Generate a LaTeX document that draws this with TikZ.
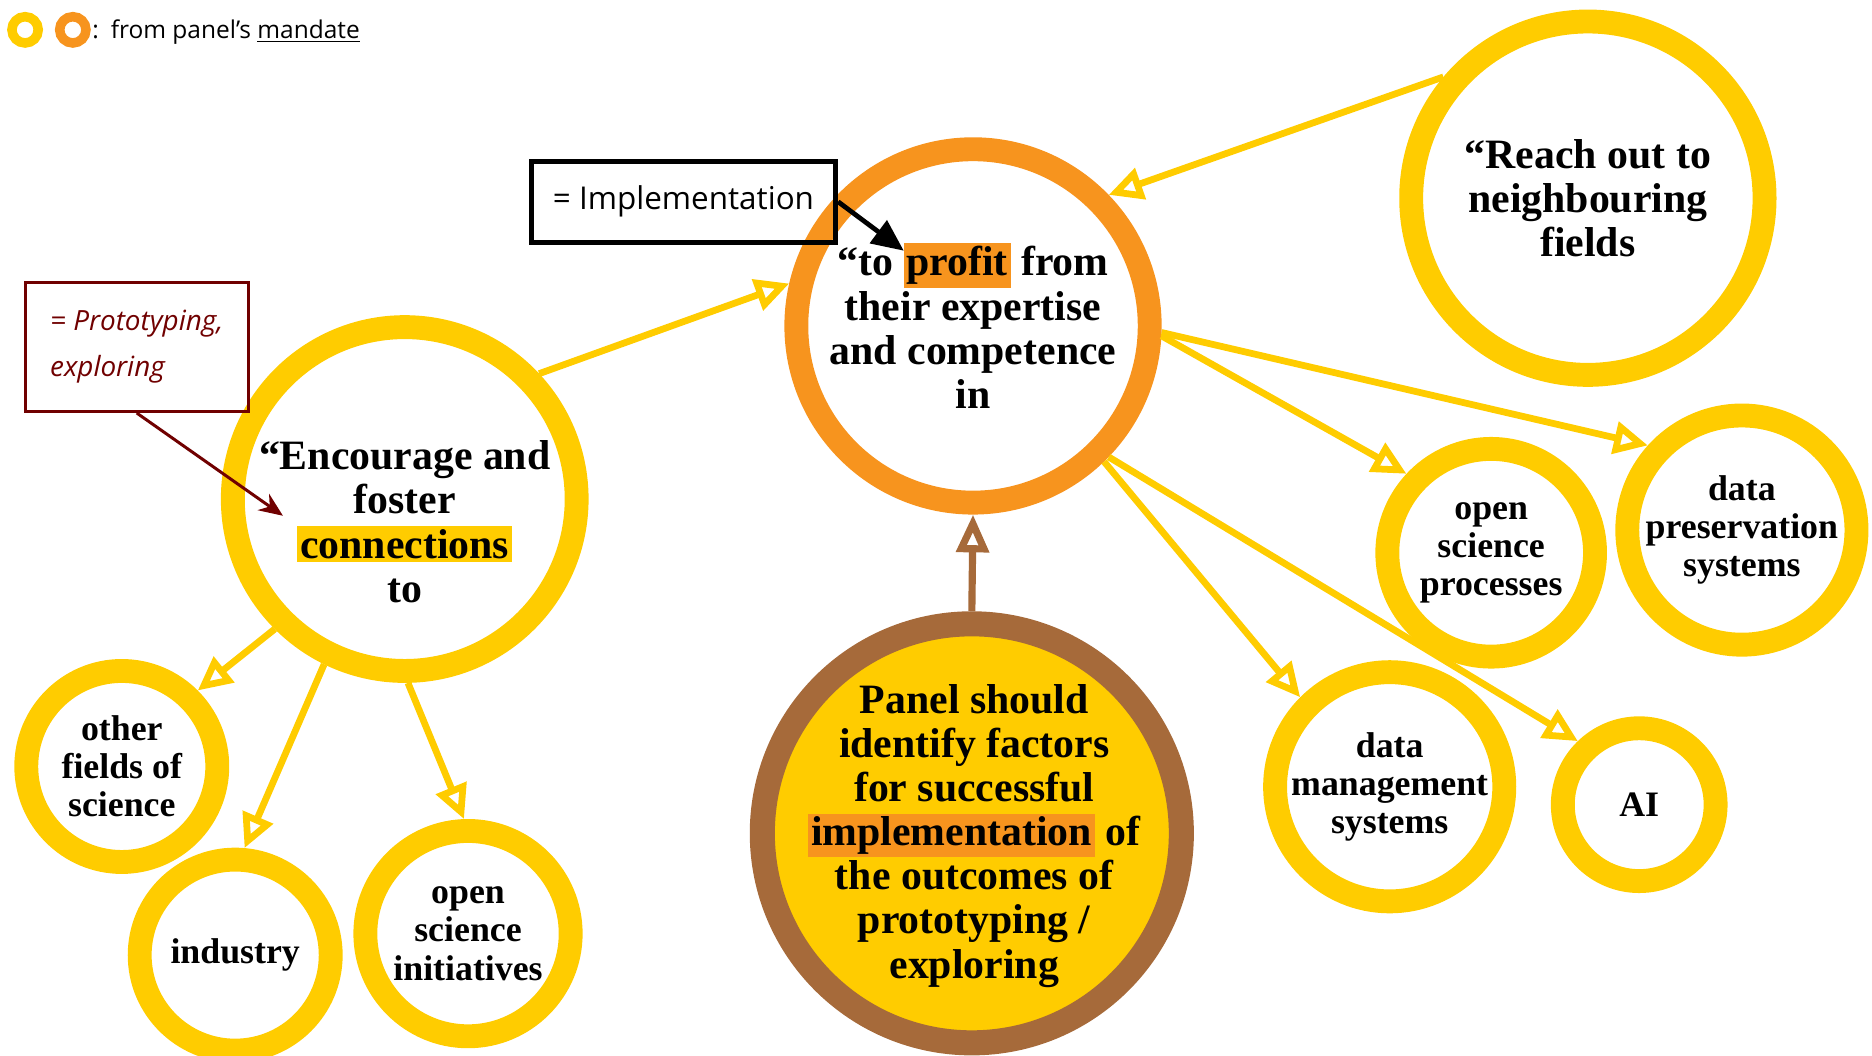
\documentclass[tikz,border=0pt]{standalone}
\usepackage{fontspec}
\setmainfont{Liberation Serif}
\setsansfont{Open Sans}
\usetikzlibrary{arrows.meta}
\definecolor{cy}{RGB}{255,204,0}
\definecolor{co}{RGB}{247,148,30}
\definecolor{cbr}{RGB}{166,106,58}
\definecolor{cdr}{RGB}{112,0,0}
\newcommand{\hl}[2]{{\setlength{\fboxsep}{1.5pt}\colorbox{#1}{#2}}}
\newcommand{\bigtxt}{\fontsize{21}{22.2}\selectfont\bfseries}
\newcommand{\smalltxt}{\fontsize{18}{19.2}\selectfont\bfseries}
\tikzstyle{ring}=[circle, draw=cy, line width=12pt, inner sep=0pt, align=center, font=\smalltxt]
\tikzstyle{bigring}=[ring, font=\bigtxt]
\tikzstyle{txt}=[align=center, font=\bigtxt]
\tikzstyle{note}=[draw, font=\sffamily\fontsize{15.8}{18}\selectfont, inner xsep=9pt]
\tikzstyle{arrow}=[cy, line width=3.4pt, -{Triangle[open, length=17pt, width=16pt]}]

\begin{document}
\begin{tikzpicture}[x=0.6pt, y=-0.6pt]
  \useasboundingbox (0,0) rectangle (1568,884);

  % legend
  \node [ring, minimum size=13.2pt, line width=4.8pt] (key-y) at (21,25) {};
  \node [ring, draw=co, minimum size=13.2pt, line width=4.8pt] (key-o) at (61,25) {};
  \node [anchor=west, inner sep=0pt, font=\sffamily\fontsize{12.3}{15}\selectfont] (key) at (77,27) {:\hspace{6pt}from panel’s \underline{mandate}};

  % main statements
  \node [bigring, draw=co, minimum size=177.6pt] (profit) at (815,273) {“to \hl{co}{profit} from\\their expertise\\and competence\\in};
  \node [bigring, minimum size=177.6pt] (reach) at (1330,166) {“Reach out to\\neighbouring\\fields};
  \node [bigring, minimum size=172.8pt] (enc) at (339,418) {};
  \node [txt] (enc-text) at (339,437) {“Encourage and\\foster\\\hl{cy}{connections}\\to};
  \node [bigring, draw=cbr, fill=cy, line width=12.6pt, minimum size=210.6pt] (panel) at (814,698) {};
  \node [txt] (panel-text) at (816,700) {Panel should\\identify factors\\for successful\\\hl{co}{implementation} of\\the outcomes of\\prototyping /\\exploring};

  % targets
  \node [ring, minimum size=96pt] (other) at (102,642) {other\\fields of\\science};
  \node [ring, minimum size=96pt] (industry) at (197,800) {industry};
  \node [ring, minimum size=103.2pt] (initiatives) at (392,782) {open\\science\\initiatives};
  \node [ring, minimum size=104.4pt] (processes) at (1249,463) {open\\science\\processes};
  \node [ring, minimum size=115.2pt] (preservation) at (1459,444) {data\\preservation\\systems};
  \node [ring, minimum size=115.2pt] (management) at (1164,659) {data\\management\\systems};
  \node [ring, minimum size=76.8pt] (ai) at (1373,674) {AI};

  % notes
  \node [note, line width=2.4pt, minimum width=153pt, minimum height=40.8pt] (impl) at (572.5,169) {= Implementation};
  \node [note, cdr, line width=1.5pt, align=left, minimum width=112pt, minimum height=65pt, font=\sffamily\itshape\fontsize{14}{23}\selectfont] (proto) at (114.5,290.5) {= Prototyping,\\exploring};
  \coordinate (impl-tip) at (757,210);
  \coordinate (proto-tip) at (237,432);

  % connectors
  \draw [arrow] (enc.43) -- (profit.167);
  \draw [arrow] (reach.140) -- (profit.44);
  \foreach \a/\t/\b in {357/processes/137, 358/preservation/138, 314/management/135, 316/ai/134}
    \draw [arrow] (profit.\a) -- (\t.\b);
  \foreach \a/\t/\b in {225/other/45, 244/industry/85, 271/initiatives/92}
    \draw [arrow] (enc.\a) -- (\t.\b);
  \draw [arrow, cbr, line width=3.6pt, -{Triangle[open, length=19pt, width=16pt]}] (panel.90) -- (profit.270);
  \draw [line width=2.4pt, -{Triangle[length=16pt, width=14pt]}] (impl.east) -- (impl-tip);
  \draw [cdr, line width=1.5pt, -{Stealth[length=12pt, width=10pt]}] (proto.south) -- (proto-tip);
\end{tikzpicture}
\end{document}
